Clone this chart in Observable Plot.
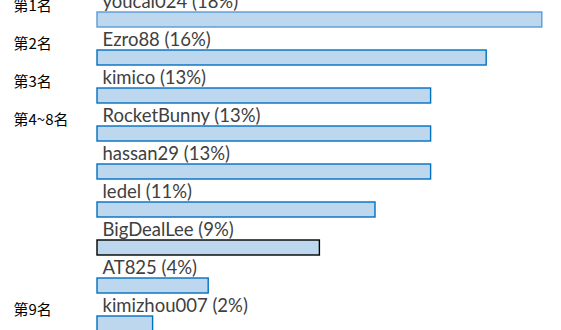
<!DOCTYPE html>
<html>
<head>
<meta charset="utf-8">
<script src="https://cdn.jsdelivr.net/npm/d3@7"></script>
<script src="https://cdn.jsdelivr.net/npm/@observablehq/plot@0.6"></script>
<style>
  html, body { margin: 0; padding: 0; background: #fff; overflow: hidden; }
</style>
</head>
<body>
<div id="chart"></div>
<script>
// Players and their vote counts, in ranking order
const names = ["youcai024", "Ezro88", "kimico", "RocketBunny", "hassan29", "ledel", "BigDealLee", "AT825", "kimizhou007"];
const votes = [8, 7, 6, 6, 6, 5, 4, 2, 1];

// Rank group labels and the row each one sits beside
const rankLabels = ["第1名", "第2名", "第3名", "第4~8名", "第9名"];
const rankRows = ["youcai024", "Ezro88", "kimico", "RocketBunny", "kimizhou007"];

const total = d3.sum(votes);
const rows = names.map((name, i) => ({
  name,
  votes: votes[i],
  label: `${name} (${Math.round(votes[i] / total * 100)}%)`
}));
const ranks = rankLabels.map((label, i) => ({label, name: rankRows[i]}));

// Outline colour per bar: the leader lighter, one highlighted in black
const outline = (d, i) => i === 0 ? "#5B9BD5" : d.name === "BigDealLee" ? "#000000" : "#0070C0";

const chart = Plot.plot({
  width: 561,
  height: 330,
  marginLeft: 97,
  marginRight: 19,
  marginTop: 0,
  marginBottom: 0,
  x: {domain: [0, 8], range: [97, 541.8], axis: null},
  y: {type: "band", domain: names, range: [9, 332.8], paddingInner: 0.611, paddingOuter: 0, axis: null},
  marks: [
    Plot.barX(rows, {
      x: "votes",
      y: "name",
      fill: "#BDD7EE",
      stroke: outline,
      strokeWidth: 1.4
    }),
    Plot.text(rows, {
      x: 0,
      y: "name",
      text: "label",
      textAnchor: "start",
      lineAnchor: "bottom",
      dx: 5,
      dy: -12,
      fill: "#404040",
      fontSize: 18.5,
      fontFamily: "Lato, 'Liberation Sans', sans-serif"
    }),
    Plot.text(ranks, {
      x: 0,
      y: "name",
      text: "label",
      textAnchor: "start",
      lineAnchor: "middle",
      dx: -84,
      dy: -14,
      fill: "#000000",
      fontSize: 15,
      fontFamily: "'Noto Sans CJK SC', sans-serif"
    })
  ]
});

document.getElementById("chart").append(chart);
</script>
</body>
</html>
